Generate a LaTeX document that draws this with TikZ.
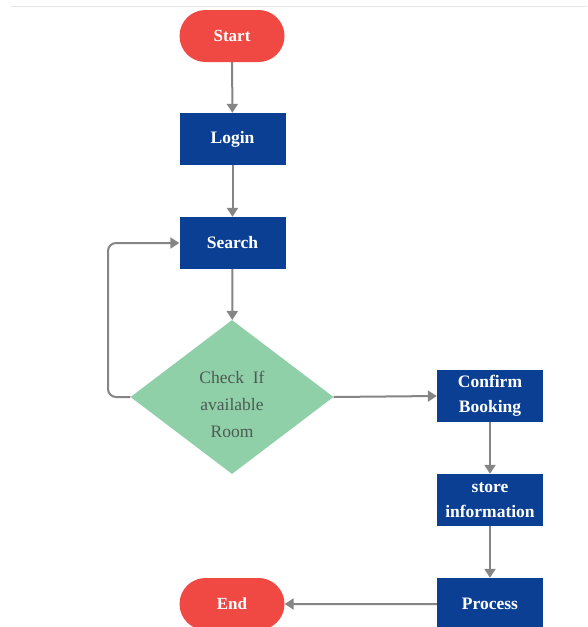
\documentclass[tikz,border=0pt]{standalone}
\usepackage{fontspec}
\setmainfont{Liberation Serif}
\newfontfamily\diagfont{Liberation Serif}
\usetikzlibrary{shapes.geometric,shapes.misc,arrows.meta}
\definecolor{termred}{HTML}{F04842}
\definecolor{boxblue}{HTML}{0A3F93}
\definecolor{dgreen}{HTML}{8FD0A9}
\definecolor{arrgray}{HTML}{858585}
\definecolor{dtext}{HTML}{4E5A52}
\tikzset{
  terminal/.style={rounded rectangle, fill=termred, minimum width=105pt, minimum height=52pt, text=white, font=\diagfont\fontsize{17}{20}\selectfont\bfseries, inner sep=0pt},
  stepbox/.style={rectangle, fill=boxblue, minimum width=106pt, minimum height=52pt, text=white, font=\diagfont\fontsize{17.5}{25}\selectfont\bfseries, align=center, inner sep=0pt},
  decision/.style={diamond, fill=dgreen, minimum width=203pt, minimum height=154pt, text=dtext, font=\diagfont\fontsize{17.5}{27}\selectfont, align=center, inner sep=0pt, aspect=1.32},
  conn/.style={draw=arrgray, line width=2pt, -{Triangle[length=9pt,width=11pt]}},
}
\begin{document}
\begin{tikzpicture}[x=1pt,y=-1pt]
\useasboundingbox (0,0) rectangle (587,627);
\fill[white] (0,0) rectangle (587,627);
\draw[draw=black!10, line width=1.5pt] (11,6.5) -- (587,6.5);
\node[terminal] (start) at (232,36) {Start};
\node[stepbox] (login) at (232.5,139) {Login};
\node[stepbox] (search) at (232.5,243) {Search};
\node[decision] (check) at (232,397) {\mbox{}\\Check~~If\\available\\Room};
\node[stepbox] (confirm) at (490,396) {Confirm\\Booking};
\node[stepbox] (store) at (490,500) {store\\information};
\node[stepbox] (process) at (490,604) {Process};
\node[terminal] (end) at (232,604) {End};
\draw[conn] (start) -- (login);
\draw[conn] (login) -- (search);
\draw[conn] (search) -- (check);
\draw[conn, rounded corners=8pt] (check.west) -- (108,397) -- (108,243) -- (search.west);
\draw[conn] (check.east) -- (confirm.west);
\draw[conn] (confirm) -- (store);
\draw[conn] (store) -- (process);
\draw[conn] (process) -- (end);
\end{tikzpicture}
\end{document}
